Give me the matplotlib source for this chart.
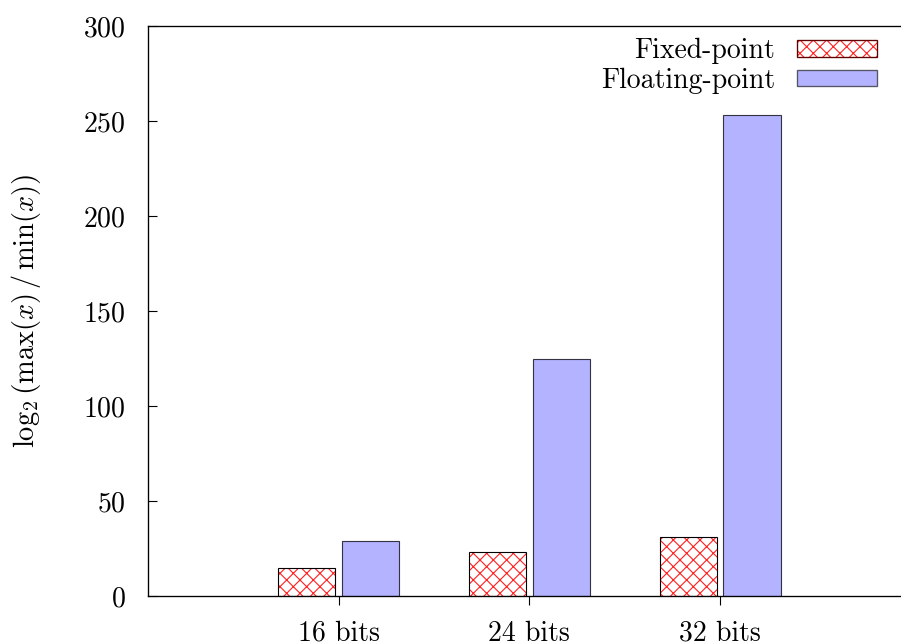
import numpy as np
import matplotlib
matplotlib.use("Agg")
import matplotlib.pyplot as plt
from matplotlib.patches import Patch
from matplotlib.legend_handler import HandlerTuple

# dynamic range (log2 of max/min) per word length
categories = ["16 bits", "24 bits", "32 bits"]
fixed_point = [15, 23, 31]
floating_point = [29, 125, 253]
series_names = ["Fixed-point", "Floating-point"]

plt.rcParams["font.family"] = "cmr10"
plt.rcParams["mathtext.fontset"] = "cm"
plt.rcParams["axes.unicode_minus"] = False
plt.rcParams["axes.formatter.use_mathtext"] = True
plt.rcParams["hatch.linewidth"] = 1.0

dpi = 80
fig = plt.figure(figsize=(901 / dpi, 642 / dpi), dpi=dpi)
W, H = 901, 642
ax = fig.add_axes([148 / W, (H - 596) / H, (910.75 - 148) / W, (596 - 26) / H])

x = np.arange(1, len(categories) + 1)
width = 0.30
off = 0.167
float_col = "#b3b3ff"

# hatched fixed-point bars, then a black outline on top
ax.bar(x - off, fixed_point, width, color="white", edgecolor="#ff2020",
       hatch="xx", linewidth=0, zorder=2)
ax.bar(x - off, fixed_point, width, fill=False, edgecolor="black",
       linewidth=1.0, zorder=3)
ax.bar(x + off, floating_point, width, color=float_col, edgecolor="#333344",
       linewidth=1.0, zorder=2)

ax.set_xlim(0, 4)
ax.set_ylim(0, 300)
ax.set_yticks(range(0, 301, 50))
ax.set_xticks(x)
ax.set_xticklabels(categories)

ax.spines["right"].set_visible(False)
for s in ax.spines.values():
    s.set_linewidth(1.2)

ax.tick_params(axis="y", direction="in", length=8, width=1, pad=20,
               labelsize=25, left=True, right=False)
ax.tick_params(axis="x", direction="out", length=8, width=1, pad=14,
               labelsize=25, top=False)

ax.set_ylabel(r"$\log_2\left(\max(x)\,/\,\min(x)\right)$", fontsize=25.5,
              labelpad=36)

h_fixed = (Patch(facecolor="white", edgecolor="#ff2020", hatch="xx", linewidth=0),
           Patch(facecolor="none", edgecolor="#600000", linewidth=1.2))
h_float = Patch(facecolor=float_col, edgecolor="#555566", linewidth=1.2)
fig.legend([h_fixed, h_float], series_names,
           handler_map={tuple: HandlerTuple(ndivide=1, pad=0)},
           loc="upper right", bbox_to_anchor=(877 / W, 1 - 38 / H),
           frameon=False, markerfirst=False, fontsize=25,
           handlelength=2.88, handleheight=0.54, handletextpad=0.8,
           labelspacing=0.12, borderpad=0, borderaxespad=0)

fig.savefig("out.png", dpi=dpi)
